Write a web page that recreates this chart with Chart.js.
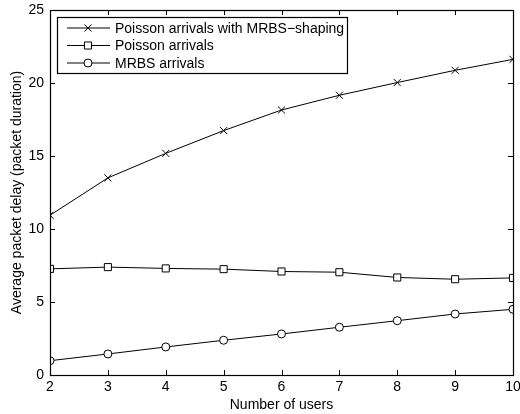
<!DOCTYPE html>
<html>
<head>
<meta charset="utf-8">
<script src="https://cdn.jsdelivr.net/npm/chart.js@4/dist/chart.umd.min.js"></script>
<style>
  html, body { margin: 0; padding: 0; background: #fff; }
  #wrap { width: 520px; height: 414px; }
</style>
</head>
<body>
<div id="wrap"><canvas id="chart" width="520" height="414"></canvas></div>
<script>
// values
const users = [2, 3, 4, 5, 6, 7, 8, 9, 10];
const shapedDelay = [10.94, 13.5, 15.18, 16.74, 18.15, 19.16, 20.03, 20.87, 21.62];
const poissonDelay = [7.27, 7.39, 7.3, 7.25, 7.09, 7.04, 6.68, 6.56, 6.65];
const mrbsDelay = [0.98, 1.44, 1.92, 2.38, 2.81, 3.27, 3.72, 4.18, 4.5];
const seriesNames = ['Poisson arrivals with MRBS\u2212shaping', 'Poisson arrivals', 'MRBS arrivals'];
const xTicks = [2, 3, 4, 5, 6, 7, 8, 9, 10];
const yTicks = [0, 5, 10, 15, 20, 25];

const FONT = '"Liberation Sans", Arial, Helvetica, sans-serif';

function toPoints(vals) {
  return users.map((u, i) => ({ x: u, y: vals[i] }));
}

function makeSet(label, vals, style, radius) {
  return {
    label,
    data: toPoints(vals),
    borderColor: '#000',
    borderWidth: 1,
    backgroundColor: '#fff',
    pointStyle: style,
    pointRadius: radius,
    pointBorderColor: '#000',
    pointBackgroundColor: '#fff',
    pointBorderWidth: 1,
    tension: 0,
    fill: false
  };
}

// MATLAB style box: ticks pointing inward on all four sides
const boxAxes = {
  id: 'boxAxes',
  afterDatasetsDraw(chart) {
    const { ctx, chartArea: a, scales } = chart;
    ctx.save();
    ctx.strokeStyle = '#000';
    ctx.lineWidth = 1;
    ctx.beginPath();
    const len = 5;
    xTicks.forEach(v => {
      const px = Math.round(scales.x.getPixelForValue(v)) + 0.5;
      ctx.moveTo(px, a.bottom); ctx.lineTo(px, a.bottom - len);
      ctx.moveTo(px, a.top); ctx.lineTo(px, a.top + len);
    });
    yTicks.forEach(v => {
      const py = Math.round(scales.y.getPixelForValue(v)) + 0.5;
      ctx.moveTo(a.left, py); ctx.lineTo(a.left + len, py);
      ctx.moveTo(a.right, py); ctx.lineTo(a.right - len, py);
    });
    ctx.stroke();
    ctx.lineWidth = 1.2;
    ctx.strokeRect(Math.round(a.left) + 0.5, Math.round(a.top) + 0.5,
      Math.round(a.right - a.left), Math.round(a.bottom - a.top));
    ctx.restore();
  }
};

// legend box in the top left corner, line with marker in the middle
const boxLegend = {
  id: 'boxLegend',
  afterDraw(chart) {
    const { ctx, chartArea: a } = chart;
    const x0 = a.left + 7, y0 = a.top + 7, w = 290, rowH = 17.5, h = 56;
    ctx.save();
    ctx.fillStyle = '#fff';
    ctx.fillRect(x0, y0, w, h);
    ctx.strokeStyle = '#000';
    ctx.lineWidth = 1.2;
    ctx.strokeRect(x0 + 0.5, y0 + 0.5, w, h);
    ctx.font = '14px ' + FONT;
    ctx.textBaseline = 'middle';
    chart.data.datasets.forEach((ds, i) => {
      const y = y0 + 11 + i * rowH;
      ctx.strokeStyle = '#000';
      ctx.lineWidth = 1;
      ctx.beginPath();
      ctx.moveTo(x0 + 10, y);
      ctx.lineTo(x0 + 53, y);
      ctx.stroke();
      ctx.fillStyle = '#fff';
      Chart.helpers.drawPoint(ctx, { pointStyle: ds.pointStyle, radius: ds.pointRadius, borderWidth: 1, rotation: 0 }, x0 + 31, y);
      ctx.fillStyle = '#000';
      ctx.fillText(ds.label, x0 + 58, y + 1);
    });
    ctx.restore();
  }
};

const chart = new Chart(document.getElementById('chart'), {
  type: 'line',
  data: {
    datasets: [
      makeSet(seriesNames[0], shapedDelay, 'crossRot', 5),
      makeSet(seriesNames[1], poissonDelay, 'rect', 5),
      makeSet(seriesNames[2], mrbsDelay, 'circle', 4)
    ]
  },
  options: {
    responsive: false,
    animation: false,
    devicePixelRatio: 1,
    layout: { padding: { top: 10, right: 7, bottom: 0, left: 0 } },
    plugins: {
      legend: { display: false },
      tooltip: { enabled: false }
    },
    scales: {
      x: {
        type: 'linear',
        min: 2,
        max: 10,
        afterBuildTicks: s => { s.ticks = xTicks.map(v => ({ value: v })); },
        afterFit: s => { s.height = 39; s.paddingLeft = 0; s.paddingRight = 0; },
        grid: { display: false, drawTicks: false },
        border: { display: false },
        ticks: { color: '#000', font: { family: FONT, size: 14 }, padding: 4, maxRotation: 0 },
        title: { display: true, text: 'Number of users', color: '#000', font: { family: FONT, size: 14 }, padding: { top: 0, bottom: 0 } }
      },
      y: {
        type: 'linear',
        min: 0,
        max: 25,
        afterBuildTicks: s => { s.ticks = yTicks.map(v => ({ value: v })); },
        afterFit: s => { s.width = 50; s.paddingTop = 0; s.paddingBottom = 0; },
        grid: { display: false, drawTicks: false },
        border: { display: false },
        ticks: { color: '#000', font: { family: FONT, size: 14 }, padding: 6 },
        title: { display: true, text: 'Average packet delay (packet duration)', color: '#000', font: { family: FONT, size: 14 }, padding: { top: 9, bottom: 0 } }
      }
    }
  },
  plugins: [boxAxes, boxLegend]
});
</script>
</body>
</html>
